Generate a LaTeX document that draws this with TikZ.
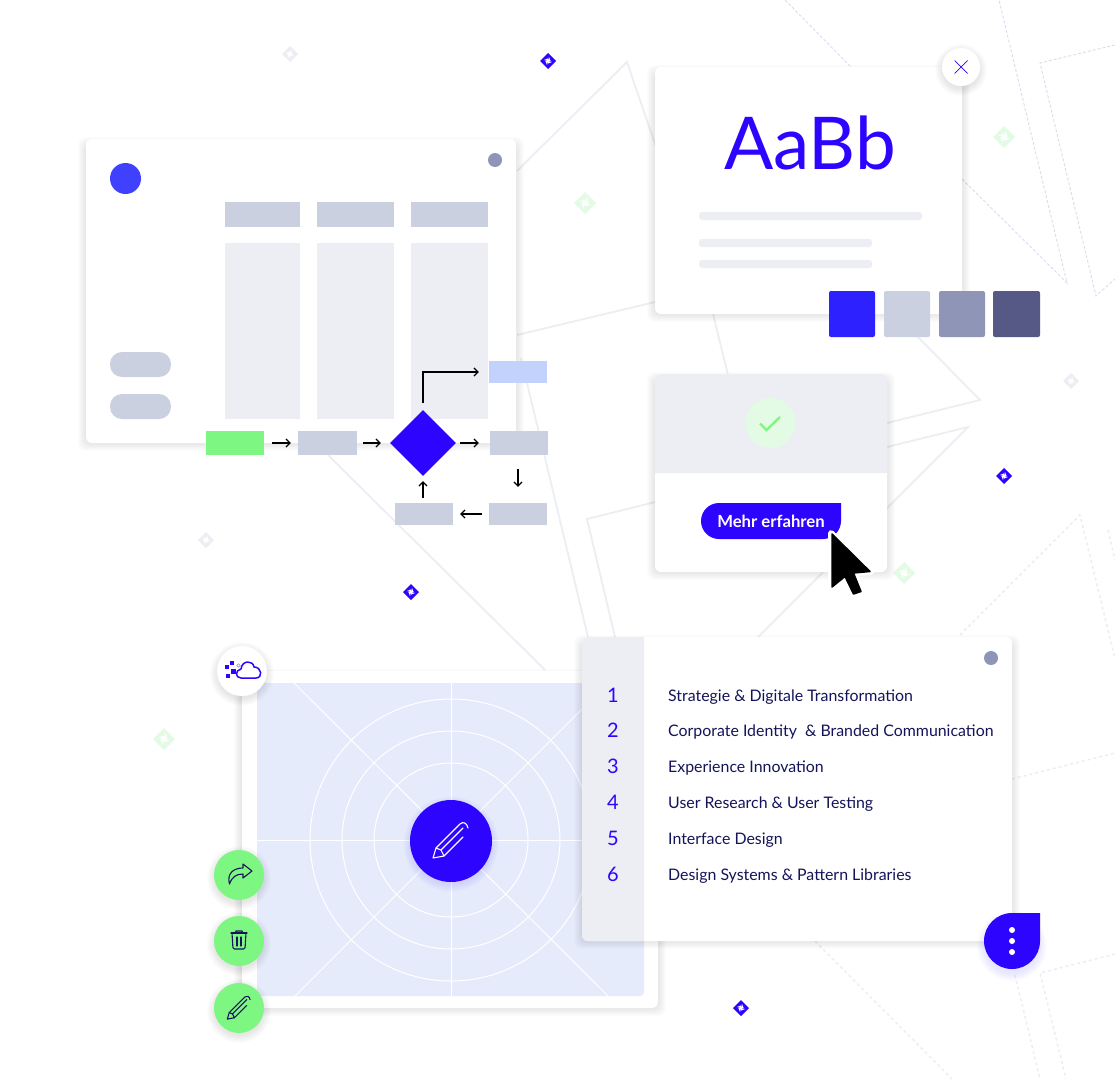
\documentclass[tikz,border=0pt]{standalone}
\usepackage{fontspec}
\setmainfont{Lato}
\usetikzlibrary{arrows.meta}
\usetikzlibrary{positioning, shapes.geometric}

\definecolor{mainblue}{HTML}{2D05FF}
\definecolor{swatchblue}{HTML}{2D22FF}
\definecolor{dotblue}{HTML}{4040FF}
\definecolor{paleblue}{HTML}{C3D2FC}
\definecolor{imgblue}{HTML}{E6EBFB}
\definecolor{boxgrey}{HTML}{CAD0E0}
\definecolor{palegrey}{HTML}{EDEEF4}
\definecolor{midgrey}{HTML}{8F95B6}
\definecolor{darkgrey}{HTML}{565885}
\definecolor{mintgreen}{HTML}{7EF782}
\definecolor{palegreen}{HTML}{E3FBE4}
\definecolor{navy}{HTML}{14145A}
\definecolor{dashgrey}{HTML}{DBDBEF}

\tikzset{
  flowbox/.style={rectangle, fill=boxgrey, inner sep=0pt, minimum width=58pt, minimum height=24pt},
  flowarrow/.style={line width=1.2pt, -{Straight Barb[length=4pt,width=8pt]}},
  bgline/.style={draw=palegrey, line width=1.8pt},
  bgdash/.style={draw=dashgrey, line width=0.9pt, dash pattern=on 3pt off 2pt},
  bgdots/.style={draw=palegrey, line width=1.5pt, dash pattern=on 3pt off 3pt},
  card/.style={fill=white, rounded corners=6pt},
  iconline/.style={line width=1.1pt, line join=round, line cap=round},
  listtext/.style={anchor=base west, inner sep=0pt, text=navy, font=\fontsize{15.9}{18}\selectfont},
  listnum/.style={inner sep=0pt, text=mainblue, font=\fontsize{20}{24}\selectfont},
}

% weicher Schatten fuer Karten
\newcommand{\softbox}[4]{
  \foreach \r in {1,...,8}
    \fill[black, opacity=0.011, rounded corners=8pt] ({#1-\r},{#2-\r+6}) rectangle ({#3+\r},{#4+\r});
}
% weicher Schatten fuer Kreise
\newcommand{\softdot}[4]{
  \foreach \r in {1,...,8}
    \fill[#4, opacity=0.01] (#1,#2+3) circle ({#3+\r-1});
}
% kleine Raute im Hintergrund
\newcommand{\sparkle}[4]{
  \begin{scope}[shift={(#1,#2)}, scale=#4]
    \fill[#3] (0,-1) -- (1,0) -- (0,1) -- (-1,0) -- cycle;
    \foreach \a in {0,90,180,270}
      \fill[white, rotate=\a] (0,0) -- (0.12,-0.5) -- (0.32,-0.02) -- cycle;
  \end{scope}
}
% Stift-Symbol
\newcommand{\pencilicon}[4]{
  \begin{scope}[shift={(#1,#2)}, scale=#3]
    \draw[iconline, draw=#4] (-15,7) -- (9,-17) .. controls (12,-20) and (16,-18) .. (17,-13);
    \draw[iconline, draw=#4] (-7,15) -- (12,-4);
    \draw[iconline, draw=#4] (-15,7) -- (-18,17) -- (-7,15) -- (-10,9) -- cycle;
    \draw[iconline, draw=#4] (-10,9) -- (12,-13);
  \end{scope}
}

\begin{document}
\begin{tikzpicture}[x=1pt, y=-1pt, >=latex]
  \useasboundingbox (0,0) rectangle (1115,1079);
  \fill[white] (0,0) rectangle (1115,1079);

  % Hintergrundlinien
  \draw[bgline] (517,171) -- (627,62) -- (713,314) -- (728,375);
  \draw[bgline] (517,335) -- (655,302);
  \draw[bgline] (917,336) -- (980,400) -- (887,423);
  \draw[bgline] (887,447) -- (968,427) -- (758,637);
  \draw[bgline] (655,502) -- (587,519) -- (615,637);
  \draw[bgline] (521,358) -- (588,637);
  \draw[bgline] (328,455) -- (545,670);
  \draw[bgdash] (785,0) -- (851,67);
  \draw[bgdash] (962,179) -- (1067,283) -- (999,0);
  \draw[bgdash] (1115,45) -- (1040,63) -- (1096,296) -- (1115,279);
  \draw[bgdots] (960,635) -- (1080,515) -- (1115,659);
  \draw[bgdots] (1108,530) -- (1115,560);
  \draw[bgdots] (1012,779) -- (1115,753);
  \draw[bgdots] (815,941) -- (952,1079);
  \draw[bgdots] (1115,954) -- (1040,973) -- (1066,1079);
  \draw[bgdots] (1015,975) -- (1040,1079);

  % Rauten
  \sparkle{548}{61}{mainblue}{8}
  \sparkle{411}{592}{mainblue}{8}
  \sparkle{741}{1008}{mainblue}{8}
  \sparkle{1004}{476}{mainblue}{8}
  \sparkle{585}{203}{palegreen}{11}
  \sparkle{1004}{137}{palegreen}{11}
  \sparkle{904}{573}{palegreen}{11}
  \sparkle{164}{739}{palegreen}{11}
  \sparkle{290}{54}{palegrey}{8}
  \sparkle{206}{540}{palegrey}{8}
  \sparkle{1071}{381}{palegrey}{8}

  % Karte links oben
  \softbox{86}{139}{516}{443}
  \fill[card] (86,139) rectangle (516,443);
  \fill[dotblue] (125.5,178.5) circle (15.5pt);
  \fill[midgrey] (495,160) circle (7pt);
  \fill[boxgrey, rounded corners=12pt] (110,352) rectangle (171,377);
  \fill[boxgrey, rounded corners=12pt] (110,394) rectangle (171,419);
  \fill[boxgrey] (225,202) rectangle (300,227);
  \fill[boxgrey] (317,202) rectangle (394,227);
  \fill[boxgrey] (411,202) rectangle (488,227);
  \fill[palegrey] (225,243) rectangle (300,419);
  \fill[palegrey] (317,243) rectangle (394,419);
  \fill[palegrey] (411,243) rectangle (488,419);

  % Ablauf
  \node[flowbox, fill=mintgreen] (start) at (235,443) {};
  \node[flowbox, minimum width=59pt] (stepa) at (327.5,443) {};
  \node[diamond, fill=mainblue, inner sep=0pt, minimum width=66pt, minimum height=66pt] (choice) at (423,443) {};
  \node[flowbox] (stepb) at (519,443) {};
  \node[flowbox, fill=paleblue, minimum height=22pt] (result) at (518,372) {};
  \node[flowbox, minimum height=22pt] (stepc) at (518,514) {};
  \node[flowbox, minimum height=22pt] (stepd) at (424,514) {};
  \draw[flowarrow, shorten <=8pt, shorten >=7pt] (start) -- (stepa);
  \draw[flowarrow, shorten <=6pt, shorten >=9pt] (stepa) -- (choice);
  \draw[flowarrow, shorten <=4pt, shorten >=11pt] (choice) -- (stepb);
  \draw[flowarrow, shorten <=14pt, shorten >=16pt] (stepb.south -| stepc) -- (stepc);
  \draw[flowarrow, shorten <=7pt, shorten >=7pt] (stepc) -- (stepd);
  \draw[flowarrow, shorten <=5pt, shorten >=5pt] (stepd.north -| choice) -- (choice.south);
  \draw[flowarrow, shorten <=7pt, shorten >=10pt] (choice.north) |- (result.west);

  % Karte Schrift
  \softbox{655}{67}{962}{314}
  \fill[card] (655,67) rectangle (962,314);
  \node[inner sep=0pt, text=mainblue, font=\fontsize{72.8}{90}\selectfont] (sample) at (810,142.5) {AaBb};
  \fill[palegrey, rounded corners=3pt] (699,212) rectangle (922,220);
  \fill[palegrey, rounded corners=3pt] (699,239) rectangle (872,247);
  \fill[palegrey, rounded corners=3pt] (699,260) rectangle (872,268);
  \softdot{961}{67}{19}{black}
  \fill[white] (961,67) circle (19pt);
  \draw[mainblue, line width=0.7pt] (954.5,60.5) -- (967.5,73.5);
  \draw[mainblue, line width=0.7pt] (954.5,73.5) -- (967.5,60.5);
  \fill[swatchblue, rounded corners=2pt] (829,291) rectangle (875,337);
  \fill[boxgrey, rounded corners=2pt] (884,291) rectangle (930,337);
  \fill[midgrey, rounded corners=2pt] (939,291) rectangle (985,337);
  \fill[darkgrey, rounded corners=2pt] (993,291) rectangle (1040,337);

  % Karte Button
  \softbox{655}{374}{887}{572}
  \fill[card] (655,374) rectangle (887,572);
  \fill[palegrey] (655,473) [rounded corners=6pt] -- (655,374) -- (887,374) [sharp corners] -- (887,473) -- cycle;
  \fill[palegreen] (770.5,423) circle (25pt);
  \draw[mintgreen, line width=2.4pt] (760,423.5) -- (766.5,430) -- (780,417);
  \fill[mainblue] (841,503) [rounded corners=18pt] -- (841,539) -- (701,539) -- (701,503) [sharp corners] -- cycle;
  \node[inner sep=0pt, text=white, font=\fontsize{16.7}{19}\selectfont\bfseries] (more) at (771,521.5) {Mehr erfahren};
  % Mauszeiger
  \draw[white, line width=6pt, line join=round] (831,533) -- (871,572) -- (854,573) -- (862,592) -- (853,595) -- (845,577) -- (831,588) -- cycle;
  \filldraw[black, line width=1.5pt, line join=round] (832,534) -- (870,571.5) -- (853.5,573) -- (861,591.5) -- (853.5,594) -- (845,576.5) -- (832,587) -- cycle;

  % Karte Bild
  \softbox{242}{671}{658}{1008}
  \fill[card] (242,671) rectangle (658,1008);
  \fill[imgblue] (257,683) -- (644,683) [rounded corners=4pt] -- (644,996) [sharp corners] -- (257,996) -- cycle;
  \draw[white, line width=1pt] (257,840) -- (644,840);
  \draw[white, line width=1pt] (451,683) -- (451,996);
  \draw[white, line width=1pt] (294,683) -- (608,996);
  \draw[white, line width=1pt] (608,683) -- (295,996);
  \draw[white, line width=1pt] (451,840) circle (141pt);
  \draw[white, line width=1pt] (451,840) circle (109pt);
  \draw[white, line width=1pt] (451,840) circle (77pt);
  \softdot{451}{841}{41}{mainblue}
  \fill[mainblue] (451,841) circle (41pt);
  \pencilicon{451}{841}{1}{white}

  % Wolke
  \softdot{242}{671}{25}{black}
  \fill[white] (242,671) circle (25pt);
  \draw[mainblue, line width=1.5pt, line join=round] (241,678) .. controls (235,678) and (235,670) .. (241,669) .. controls (242,660) and (253,660) .. (254,667) .. controls (262,667) and (263,678) .. (256,678) -- cycle;
  \draw[midgrey, line width=0.6pt] (238.5,665.5) circle (1.8pt);
  \fill[mainblue] (229.7,660.7) rectangle (233.7,664.7);
  \fill[mainblue] (225,665) rectangle (229,669);
  \fill[mainblue] (230.5,668.5) rectangle (235.5,673.5);
  \fill[mainblue] (225.7,673.7) rectangle (229.7,677.7);

  % runde Knoepfe
  \softdot{239}{875}{25}{black}
  \softdot{239}{941}{25}{black}
  \softdot{239}{1008}{25}{black}
  \fill[mintgreen] (239,875) circle (25pt);
  \fill[mintgreen] (239,941) circle (25pt);
  \fill[mintgreen] (239,1008) circle (25pt);
  \draw[iconline, draw=navy] (229.5,884) .. controls (226.5,873) and (234,868) .. (243,868) -- (243,864) -- (252,871) -- (243,878) -- (243,874) .. controls (236,874) and (232,877) .. (229.5,884) -- cycle;
  \draw[iconline, draw=navy] (231,933) -- (247,933);
  \draw[iconline, draw=navy] (235,933) -- (236,931) -- (242,931) -- (243,933);
  \draw[iconline, draw=navy, rounded corners=1.5pt] (232,933) -- (233,949) -- (245,949) -- (246,933);
  \draw[iconline, draw=navy] (237,937) -- (237,946);
  \draw[iconline, draw=navy] (241,937) -- (241,946);
  \pencilicon{239}{1008}{0.65}{navy}

  % Karte Liste
  \softbox{582}{637}{1012}{941}
  \fill[card] (582,637) rectangle (1012,941);
  \fill[palegrey] (644,637) [rounded corners=6pt] -- (582,637) -- (582,941) [sharp corners] -- (644,941) -- cycle;
  \fill[midgrey] (991,658) circle (7pt);
  \foreach \i/\ypos/\itemtext in {1/695/Strategie \& Digitale Transformation,
      2/730/Corporate Identity\ \ \& Branded Communication,
      3/766/Experience Innovation,
      4/802/User Research \& User Testing,
      5/838/Interface Design,
      6/874/Design Systems \& Pattern Libraries}{
    \node[listnum] (num\i) at (613,\ypos) {\i};
    \node[listtext] (item\i) at (668,\ypos+6.3) {\itemtext};
  }
  \softdot{1012}{943}{28}{mainblue}
  \fill[mainblue] (1040,913) [rounded corners=28pt] -- (1040,969) -- (984,969) -- (984,913) [sharp corners] -- cycle;
  \fill[white] (1012,930) circle (3pt);
  \fill[white] (1012,941) circle (3pt);
  \fill[white] (1012,952) circle (3pt);
\end{tikzpicture}
\end{document}
